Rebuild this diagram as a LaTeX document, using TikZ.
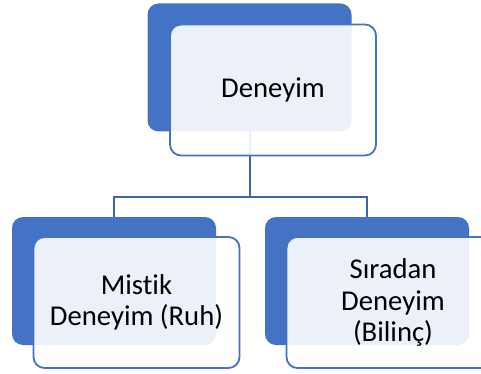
\documentclass[tikz,border=0pt]{standalone}
\usepackage{fontspec}
\setmainfont{Carlito}[Ligatures=NoCommon]
\definecolor{accent}{HTML}{4472C4}
\definecolor{connblue}{HTML}{3D64AC}
\begin{document}
\begin{tikzpicture}[x=1pt,y=-1pt,
  back/.style={draw=none, fill=accent, rounded corners=11pt, minimum width=204pt, minimum height=128pt, inner sep=0pt, outer sep=0pt, anchor=north west},
  front/.style={draw=accent, line width=1.8pt, fill=white, fill opacity=0.9, text opacity=1, rounded corners=11pt, minimum width=206pt, minimum height=131pt, inner sep=0pt, outer sep=0pt, anchor=north west, align=center, text=black, font=\fontsize{28.7}{31.5}\selectfont},
  conn/.style={draw=connblue, line width=2pt}]
\useasboundingbox (0,0) rectangle (481,374);
\clip (0,0) rectangle (481,374);
% back boxes
\node[back] (tb) at (147.5,3.5) {};
\node[back] (lb) at (12,217) {};
\node[back] (rb) at (265,217) {};
% connectors
\coordinate (bus) at (0,196.5);
\draw[conn] (tb.south) -- (tb.south |- bus) -| (lb.north);
\draw[conn] (tb.south |- bus) -| (rb.north);
% front boxes
\node[front] (tf) at (170,24.5) {Deneyim};
\node[front] (lf) at (33.5,237) {Mistik\\Deneyim (Ruh)};
\node[front, minimum width=213pt] (rf) at (286.5,237) {S\i radan\\Deneyim\\(Bilinç)};
\end{tikzpicture}
\end{document}
